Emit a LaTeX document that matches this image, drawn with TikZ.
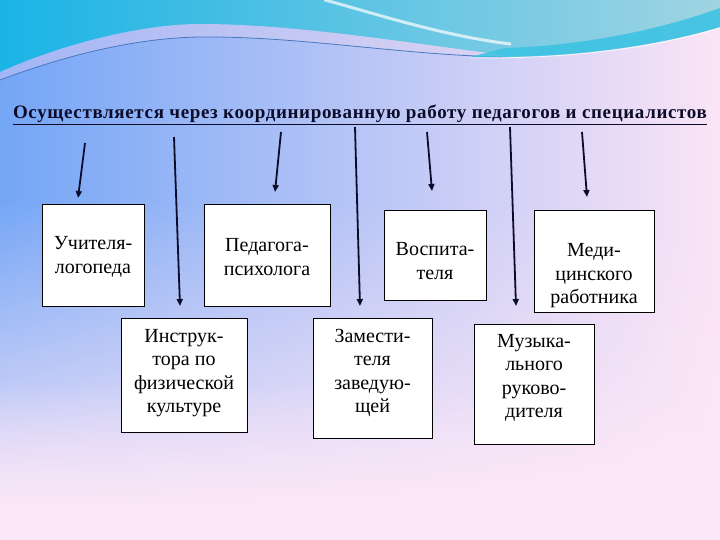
\documentclass[tikz,border=0pt]{standalone}
\usepackage{fontspec}
\setmainfont{Liberation Serif}
\usetikzlibrary{arrows.meta,fadings}
\definecolor{bgL}{HTML}{74A6F6}
\definecolor{bgM}{HTML}{C6C8F4}
\definecolor{bgR}{HTML}{FBE4F6}
\definecolor{bgB}{HTML}{FCE8F8}
\definecolor{capL}{HTML}{1AB4E6}
\definecolor{capM}{HTML}{58A6D8}
\definecolor{capR}{HTML}{A0D4E2}
\definecolor{ribL}{HTML}{A2B6F5}
\definecolor{ribR}{HTML}{DCD4F2}
\definecolor{teal}{HTML}{38C2E2}
\definecolor{wline}{HTML}{4A78C0}
\definecolor{ink}{HTML}{0C0C2A}
\tikzfading[name=bgfade, top color=transparent!100, bottom color=transparent!0]
\tikzset{
  box/.style={draw=black, line width=0.8pt, fill=white, inner sep=0pt},
  lbl/.style={font=\fontsize{20}{23.5}\selectfont, align=center, text=black, inner sep=0pt},
  arr/.style={draw=ink, line width=1.8pt, -{Triangle[length=7pt,width=6pt]}}
}
\begin{document}
\begin{tikzpicture}[x=1pt,y=-1pt]
\useasboundingbox (0,0) rectangle (720,540);
% background
\shade[left color=bgL, middle color=bgM, right color=bgR] (0,0) rectangle (720,540);
\fill[bgB, path fading=bgfade, fit fading=true] (0,200) rectangle (720,540);
\fill[bgB, path fading=bgfade, fit fading=true] (0,380) rectangle (720,540);
% top wave
\shade[left color=capL, middle color=capM, right color=capR]
  (0,0) -- (720,0) -- (720,27) .. controls (660,45) and (580,57) .. (505,57)
  .. controls (400,55) and (300,36) .. (200,37) .. controls (120,38) and (40,65) .. (0,80) -- cycle;
\shade[left color=ribL, right color=ribR]
  (0,72) .. controls (60,45) and (140,24) .. (200,24) .. controls (300,24) and (420,45) .. (505,55)
  -- (505,57) .. controls (400,55) and (300,36) .. (200,37) .. controls (120,38) and (40,65) .. (0,80) -- cycle;
\draw[line width=0.8pt, wline]
  (0,80) .. controls (40,65) and (120,38) .. (200,37) .. controls (300,36) and (400,55) .. (505,57);
\fill[teal, opacity=0.85]
  (470,57) .. controls (580,58) and (660,45) .. (720,27) -- (720,8)
  .. controls (660,30) and (580,46) .. (505,48) -- cycle;
\draw[white, line width=0.8pt, opacity=0.8]
  (470,58) .. controls (580,59) and (660,46) .. (720,28);
\draw[white, line width=3pt, opacity=0.7, line cap=round]
  (325,0) .. controls (380,15) and (440,35) .. (510,44);
% title
\node[anchor=base, text=ink, inner sep=0pt, font=\fontsize{19}{20}\selectfont\bfseries\addfontfeature{LetterSpace=3.4}] (title) at (360,119)
  {\underline{Осуществляется через координированную работу педагогов и специалистов}};
% boxes
\node[box, minimum width=102pt, minimum height=102pt] (b1) at (93,255) {};
\node[lbl] (t1) at (93,257) {Учителя-\\логопеда};
\node[box, minimum width=126pt, minimum height=102pt] (b2) at (267,255) {};
\node[lbl] (t2) at (267,257) {Педагога-\\психолога};
\node[box, minimum width=102pt, minimum height=90pt] (b3) at (435,255) {};
\node[lbl] (t3) at (435,261) {Воспита-\\теля};
\node[box, minimum width=120pt, minimum height=102pt] (b4) at (594,261) {};
\node[lbl] (t4) at (594,276) {Меди-\\цинского\\работника};
\node[box, minimum width=126pt, minimum height=114pt] (b5) at (184,375) {};
\node[lbl] (t5) at (184,373) {Инструк-\\тора по\\физической\\культуре};
\node[box, minimum width=119pt, minimum height=120pt] (b6) at (372.5,378) {};
\node[lbl] (t6) at (372.5,373) {Замести-\\теля\\заведую-\\щей};
\node[box, minimum width=120pt, minimum height=120pt] (b7) at (534,384) {};
\node[lbl] (t7) at (534,378) {Музыка-\\льного\\руково-\\дителя};
% arrows
\coordinate (s1) at (85,143);  \coordinate (e1) at (78,198);
\coordinate (s2) at (174,137); \coordinate (e2) at (180,306);
\coordinate (s3) at (281,132); \coordinate (e3) at (275,192);
\coordinate (s4) at (355,127); \coordinate (e4) at (360,306);
\coordinate (s5) at (427,132); \coordinate (e5) at (432,191);
\coordinate (s6) at (510,127); \coordinate (e6) at (516,306);
\coordinate (s7) at (582,132); \coordinate (e7) at (587,197);
\foreach \i in {1,...,7} {\draw[arr] (s\i) -- (e\i);}
\end{tikzpicture}
\end{document}
